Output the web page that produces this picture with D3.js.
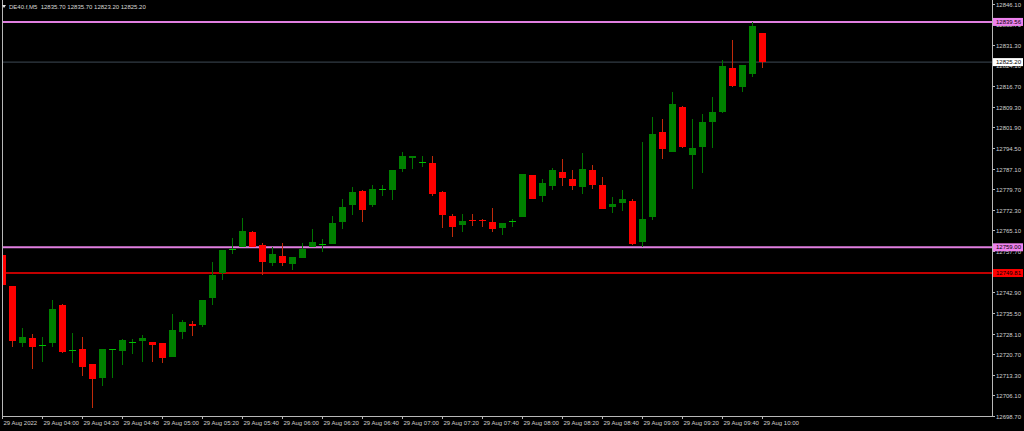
<!DOCTYPE html>
<html>
<head>
<meta charset="utf-8">
<script src="https://cdn.jsdelivr.net/npm/d3@7"></script>
<style>
  html, body { margin: 0; padding: 0; background: #000; }
  svg { display: block; }
  text { font-family: "Liberation Sans", Arial, sans-serif; }
</style>
</head>
<body>
<svg id="chart" width="1024" height="431"></svg>
<script>
const SYMBOL = 'DE40.f,M5';
const BAR_START = new Date(2022, 7, 29, 3, 40);
const BAR_MINUTES = 5;

// OHLC per M5 bar, 03:40 .. 10:00
const OPEN = [12756.2, 12745.1, 12724.9, 12726.5, 12724.0, 12724.9, 12738.3, 12722.1, 12722.6, 12717.3,
    12712.4, 12722.2, 12722.0, 12724.9, 12725.6, 12725.0, 12724.7, 12719.9, 12728.8, 12731.6,
    12731.3, 12741.0, 12749.7, 12758.4, 12759.2, 12764.6, 12759.7, 12753.5, 12756.0, 12753.0,
    12755.1, 12759.0, 12760.0, 12760.3, 12768.0, 12774.0, 12779.0, 12774.0, 12779.7, 12779.4,
    12787.0, 12791.0, 12789.4, 12789.0, 12778.6, 12770.2, 12766.9, 12768.9, 12768.8, 12768.0,
    12766.0, 12768.3, 12770.0, 12784.7, 12777.3, 12781.0, 12785.9, 12783.5, 12780.5, 12786.6,
    12781.2, 12773.3, 12774.9, 12775.5, 12760.9, 12769.9, 12800.1, 12792.9, 12809.1, 12792.1,
    12794.9, 12803.9, 12807.5, 12823.1, 12816.4, 12820.9, 12835.7];
const HIGH = [12757.3, 12745.1, 12730.1, 12728.0, 12727.0, 12740.0, 12738.7, 12728.2, 12727.0, 12717.3,
    12722.6, 12722.6, 12726.2, 12726.3, 12727.6, 12725.0, 12724.7, 12735.1, 12733.0, 12732.6,
    12740.0, 12753.8, 12758.0, 12762.2, 12769.6, 12764.9, 12760.4, 12759.2, 12760.4, 12755.5,
    12760.4, 12765.6, 12762.1, 12770.2, 12776.1, 12780.6, 12779.5, 12781.2, 12781.2, 12786.6,
    12793.2, 12791.7, 12791.6, 12791.6, 12779.0, 12771.0, 12771.0, 12771.0, 12769.1, 12773.0,
    12767.7, 12769.1, 12785.1, 12784.7, 12783.4, 12787.2, 12790.6, 12786.6, 12792.6, 12788.4,
    12784.0, 12777.1, 12779.5, 12776.4, 12796.7, 12805.7, 12804.9, 12814.6, 12809.6, 12804.9,
    12806.6, 12812.7, 12825.8, 12833.1, 12824.2, 12839.56, 12835.7];
const LOW = [12737.6, 12723.4, 12723.4, 12715.6, 12718.0, 12723.4, 12721.1, 12717.5, 12713.1, 12701.4,
    12709.5, 12712.4, 12717.0, 12720.8, 12718.0, 12718.0, 12717.5, 12719.9, 12726.3, 12727.4,
    12730.6, 12738.5, 12747.3, 12756.5, 12759.2, 12759.2, 12749.1, 12752.4, 12752.4, 12750.9,
    12755.1, 12759.0, 12757.4, 12760.3, 12765.4, 12770.4, 12768.0, 12773.3, 12777.3, 12775.9,
    12785.8, 12787.0, 12787.8, 12777.4, 12766.0, 12762.8, 12764.3, 12766.7, 12766.3, 12764.3,
    12763.4, 12766.3, 12770.0, 12776.4, 12775.3, 12779.5, 12781.0, 12779.5, 12778.0, 12779.9,
    12772.8, 12771.4, 12772.1, 12759.9, 12759.0, 12768.7, 12790.6, 12792.9, 12794.6, 12779.9,
    12785.7, 12794.6, 12807.1, 12816.4, 12814.4, 12820.0, 12823.2];
const CLOSE = [12745.5, 12725.6, 12727.0, 12723.4, 12724.1, 12737.0, 12721.6, 12722.3, 12716.3, 12712.0,
    12722.6, 12722.5, 12725.8, 12725.0, 12726.7, 12724.0, 12719.5, 12729.5, 12732.3, 12731.0,
    12740.0, 12749.2, 12758.0, 12758.5, 12764.9, 12759.2, 12753.8, 12756.5, 12753.5, 12755.5,
    12758.4, 12760.8, 12760.1, 12767.7, 12773.4, 12778.6, 12772.4, 12779.8, 12779.8, 12786.6,
    12791.6, 12791.7, 12789.5, 12778.1, 12770.4, 12766.3, 12768.5, 12768.5, 12768.4, 12765.5,
    12767.7, 12768.4, 12785.1, 12776.4, 12782.0, 12786.6, 12783.9, 12781.0, 12787.0, 12781.4,
    12772.8, 12774.6, 12776.1, 12760.3, 12769.2, 12799.6, 12794.1, 12810.1, 12794.9, 12794.6,
    12803.7, 12807.2, 12823.8, 12816.8, 12824.2, 12838.1, 12825.2];

const PRICE_TICKS = [12846.10, 12838.70, 12831.30, 12824.10, 12816.70, 12809.30, 12801.90, 12794.50,
    12787.10, 12779.70, 12772.30, 12765.10, 12757.70, 12750.30, 12742.90, 12735.50, 12728.10,
    12720.70, 12713.30, 12706.10, 12698.70];
const TIME_TICK_BARS = [0, 4, 8, 12, 16, 20, 24, 28, 32, 36, 40, 44, 48, 52, 56, 60, 64, 68, 72, 76];

// horizontal levels: [price, line colour, label bg, line width]
const LEVELS = [
    {price: 12839.56, color: '#e07fe0', bg: '#ee82ee', width: 2},
    {price: 12825.20, color: '#3e4a56', bg: '#ffffff', width: 1},
    {price: 12759.00, color: '#e07fe0', bg: '#ee82ee', width: 2},
    {price: 12749.81, color: '#c00000', bg: '#ff0000', width: 2}
];

const BULL_BODY = '#008000', BULL_WICK = '#007400', BULL_DOJI = '#00c000';
const BEAR_BODY = '#ff0000', BEAR_WICK = '#c02a0a';

const bars = OPEN.map((o, i) => ({
    t: d3.timeMinute.offset(BAR_START, i * BAR_MINUTES),
    o: o, h: HIGH[i], l: LOW[i], c: CLOSE[i]
}));

const LEFT = 2, RIGHT = 992, TOP = 0, BOTTOM = 416;

const svg = d3.select('#chart');
svg.append('rect').attr('width', 1024).attr('height', 431).attr('fill', '#000');

const x = d3.scaleTime()
    .domain([bars[0].t, bars[bars.length - 1].t])
    .range([2, 762]);
const y = d3.scaleLinear()
    .domain([12698.7, 12847.4])
    .range([BOTTOM, TOP]);

svg.append('clipPath').attr('id', 'plot')
    .append('rect')
    .attr('x', LEFT).attr('y', TOP)
    .attr('width', RIGHT - LEFT).attr('height', BOTTOM - TOP);

const plot = svg.append('g').attr('clip-path', 'url(#plot)');

// level lines
plot.selectAll('line.level')
    .data(LEVELS)
    .join('line')
    .attr('class', 'level')
    .attr('x1', LEFT).attr('x2', RIGHT)
    .attr('y1', d => y(d.price)).attr('y2', d => y(d.price))
    .attr('stroke', d => d.color)
    .attr('stroke-width', d => d.width);

// candles
const candle = plot.selectAll('g.candle')
    .data(bars)
    .join('g')
    .attr('class', 'candle')
    .attr('shape-rendering', 'crispEdges');

candle.append('line')
    .attr('x1', d => Math.round(x(d.t)) + 0.5)
    .attr('x2', d => Math.round(x(d.t)) + 0.5)
    .attr('y1', d => y(d.h))
    .attr('y2', d => y(d.l))
    .attr('stroke', d => d.c >= d.o ? BULL_WICK : BEAR_WICK)
    .attr('stroke-width', 1);

candle.append('rect')
    .attr('x', d => Math.round(x(d.t)) - 3)
    .attr('width', 7)
    .attr('y', d => y(Math.max(d.o, d.c)))
    .attr('height', d => Math.max(1, Math.abs(y(d.o) - y(d.c))))
    .attr('fill', d => {
        const small = Math.abs(y(d.o) - y(d.c)) < 1.2;
        if (d.c >= d.o) return small ? BULL_DOJI : BULL_BODY;
        return BEAR_BODY;
    });

// frame
svg.append('path')
    .attr('d', `M${LEFT + 0.5},${TOP} V${BOTTOM + 0.5} H${RIGHT + 0.5} V${TOP}`)
    .attr('fill', 'none')
    .attr('stroke', '#b8b8b8')
    .attr('stroke-width', 1)
    .attr('shape-rendering', 'crispEdges');

// price axis
const yAxis = svg.append('g');
const pt = yAxis.selectAll('g.tick')
    .data(PRICE_TICKS)
    .join('g')
    .attr('transform', d => `translate(0,${Math.round(y(d)) + 0.5})`);
pt.append('line')
    .attr('x1', RIGHT).attr('x2', RIGHT + 3)
    .attr('stroke', '#b8b8b8')
    .attr('shape-rendering', 'crispEdges');
pt.append('text')
    .attr('x', 996).attr('dy', '0.35em')
    .attr('font-size', 6)
    .attr('fill', '#d0d0d0')
    .text(d => d.toFixed(2));

// level labels
const lv = svg.append('g').selectAll('g')
    .data(LEVELS)
    .join('g')
    .attr('transform', d => `translate(0,${y(d.price)})`);
lv.append('rect')
    .attr('x', 993).attr('y', -4)
    .attr('width', 30).attr('height', 8)
    .attr('fill', d => d.bg);
lv.append('text')
    .attr('x', 996).attr('dy', '0.35em')
    .attr('font-size', 6)
    .attr('fill', '#000')
    .text(d => d.price.toFixed(2));

// time axis
const fmt = d3.timeFormat('%d %b %H:%M');
const tt = svg.append('g').selectAll('g')
    .data(TIME_TICK_BARS)
    .join('g')
    .attr('transform', i => `translate(${Math.round(x(bars[i].t)) + 0.5},0)`);
tt.append('line')
    .attr('y1', BOTTOM).attr('y2', BOTTOM + 3)
    .attr('stroke', '#b8b8b8')
    .attr('shape-rendering', 'crispEdges');
tt.append('text')
    .attr('x', 1).attr('y', 425)
    .attr('font-size', 6)
    .attr('fill', '#d0d0d0')
    .text(i => i === 0 ? d3.timeFormat('%d %b %Y')(bars[i].t) : fmt(bars[i].t));

// header
const last = bars[bars.length - 1];
svg.append('path')
    .attr('d', 'M2,5 L6,5 L4,8 Z')
    .attr('fill', '#e0e0e0');
svg.append('text')
    .attr('x', 9).attr('y', 9)
    .attr('font-size', 6)
    .attr('fill', '#d8d8d8')
    .attr('xml:space', 'preserve')
    .text(`${SYMBOL}  ${[last.o, last.h, last.l, last.c].map(v => v.toFixed(2)).join(' ')}`);
</script>
</body>
</html>
